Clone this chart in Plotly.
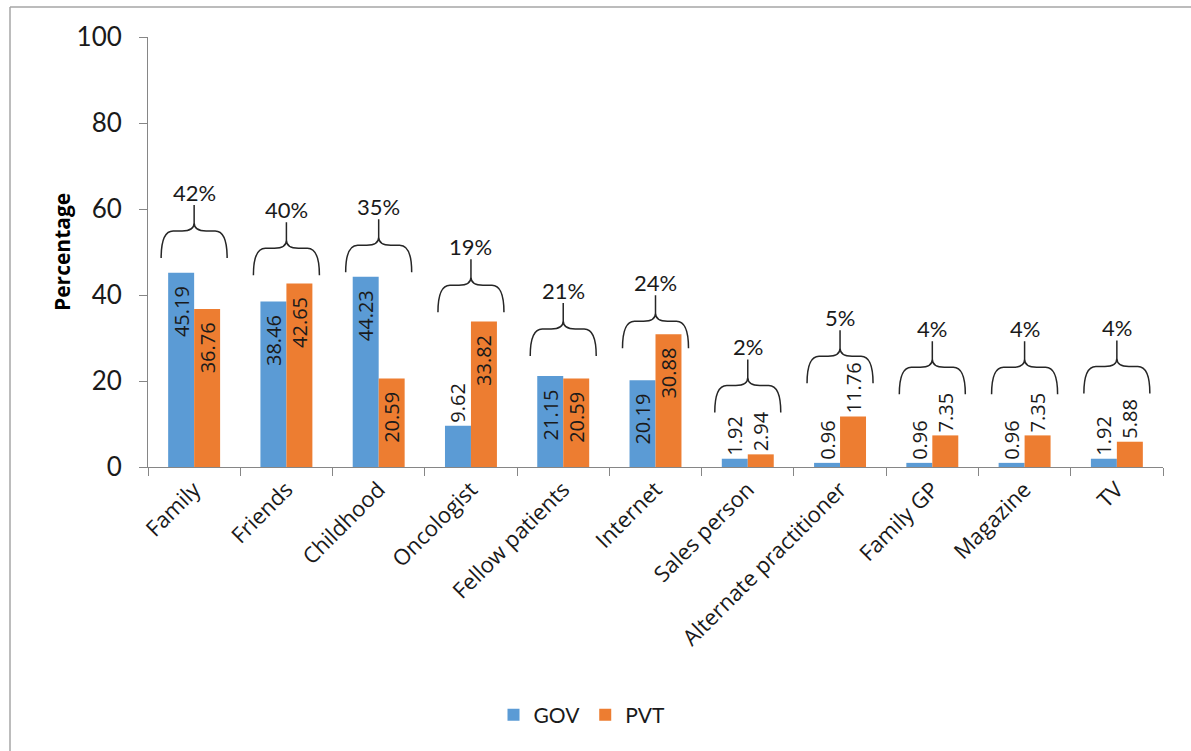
import plotly.graph_objects as go

# Sources of information, percentage of respondents per hospital type
categories = ["Family", "Friends", "Childhood", "Oncologist", "Fellow patients",
              "Internet", "Sales person", "Alternate practitioner", "Family GP",
              "Magazine", "TV"]
gov = [45.19, 38.46, 44.23, 9.62, 21.15, 20.19, 1.92, 0.96, 0.96, 0.96, 1.92]
pvt = [36.76, 42.65, 20.59, 33.82, 20.59, 30.88, 2.94, 11.76, 7.35, 7.35, 5.88]
overall = [42, 40, 35, 19, 21, 24, 2, 5, 4, 4, 4]
y_ticks = [0, 20, 40, 60, 80, 100]

# vertical level (in axis units) where each brace's feet rest
brace_base = [48.6, 44.6, 45.3, 36.0, 25.8, 27.6, 12.7, 19.5, 16.9, 16.9, 17.1]

BLUE = "#5B9BD5"
ORANGE = "#ED7D31"
AXIS = "#868686"
TXT = "#1a1a1a"
NUM_FONT = "Lato"
LBL_FONT = "Open Sans"

W, H = 1191, 751
ML, MR, MT, MB = 148, 28, 37, 284
plot_w = W - ML - MR
plot_h = H - MT - MB
px_y = plot_h / 100.0          # pixels per y unit
px_x = plot_w / len(categories)  # pixels per category

xs = list(range(len(categories)))
NBSP = "\u00a0"


def positions(vals):
    return ["inside" if v > 15 else "outside" for v in vals]


def fmt(vals):
    # inside labels sit a little below the bar top
    return [f"{v:.2f}" + (NBSP * 2 if v > 15 else "") for v in vals]


fig = go.Figure()
for name, vals, col in [("GOV", gov, BLUE), ("PVT", pvt, ORANGE)]:
    fig.add_trace(go.Bar(
        x=xs, y=vals, name=name,
        marker=dict(color=col, line=dict(width=0)),
        text=fmt(vals), textposition=positions(vals),
        insidetextanchor="end", textangle=-90, constraintext="none",
        textfont=dict(family=LBL_FONT, size=20, color=TXT),
        cliponaxis=False,
    ))

# curly braces spanning each pair of bars, with the combined share on top
half_w = 33 / px_x
r_x = 12 / px_x
leg_h = 27 / px_y
stem_h = 26 / px_y
r_y = 8 / px_y
shapes = []
annotations = []
for i, (base, pct) in enumerate(zip(brace_base, overall)):
    c = xs[i]
    yb = base
    yh = base + leg_h
    yt = yh + stem_h
    path = (
        f"M {c - half_w},{yb} Q {c - half_w},{yh} {c - half_w + r_x},{yh} "
        f"L {c - r_x},{yh} Q {c},{yh} {c},{yh + r_y} L {c},{yt} "
        f"M {c},{yh + r_y} Q {c},{yh} {c + r_x},{yh} "
        f"L {c + half_w - r_x},{yh} Q {c + half_w},{yh} {c + half_w},{yb}"
    )
    shapes.append(dict(type="path", path=path, xref="x", yref="y",
                       line=dict(color="#262626", width=1.5)))
    annotations.append(dict(x=c, y=yt, xref="x", yref="y", text=f"{pct}%",
                            showarrow=False, yanchor="bottom", yshift=-3,
                            font=dict(family=NUM_FONT, size=22, color=TXT)))

# y-axis title
annotations.append(dict(x=(62 - ML) / plot_w, y=(MT + plot_h - 252) / plot_h,
                        xref="paper", yref="paper", text="<b>Percentage</b>",
                        textangle=-90, showarrow=False,
                        xanchor="center", yanchor="middle",
                        font=dict(family=LBL_FONT, size=21, color="#000000")))

# outer frame (left and top edges)
shapes.append(dict(type="line", xref="paper", yref="paper",
                   x0=(10 - ML) / plot_w, x1=(10 - ML) / plot_w,
                   y0=-(MB + 10) / plot_h, y1=(plot_h + MT - 7) / plot_h,
                   line=dict(color="#A6A6A6", width=1.5)))
shapes.append(dict(type="line", xref="paper", yref="paper",
                   x0=(10 - ML) / plot_w, x1=(W + 10 - ML) / plot_w,
                   y0=(plot_h + MT - 7) / plot_h, y1=(plot_h + MT - 7) / plot_h,
                   line=dict(color="#A6A6A6", width=1.5)))

fig.update_layout(
    width=W, height=H,
    margin=dict(l=ML, r=MR, t=MT, b=MB, pad=0),
    paper_bgcolor="white", plot_bgcolor="white",
    barmode="group", bargap=0.437, bargroupgap=0,
    showlegend=True,
    legend=dict(orientation="h", x=(582 - ML) / plot_w, y=(MT + plot_h - 715) / plot_h,
                xanchor="center", yanchor="middle",
                font=dict(family=NUM_FONT, size=21, color=TXT),
                itemwidth=30, tracegroupgap=0),
    uniformtext=dict(minsize=20, mode="show"),
    shapes=shapes, annotations=annotations,
    xaxis=dict(
        range=[-0.5, len(categories) - 0.5],
        tickmode="array", tickvals=xs, ticktext=categories,
        ticks="", tickangle=-45,
        tickfont=dict(family=LBL_FONT, size=22, color=TXT),
        showline=True, linecolor=AXIS, linewidth=1,
        showgrid=False, zeroline=False,
        minor=dict(tickmode="array",
                   tickvals=[v - 0.5 for v in xs] + [xs[-1] + 0.5],
                   ticks="outside", ticklen=8, tickcolor=AXIS, tickwidth=1,
                   showgrid=False),
    ),
    yaxis=dict(
        range=[0, 100], tickmode="array", tickvals=y_ticks,
        ticks="outside", ticklen=8, tickcolor=AXIS, tickwidth=1,
        tickfont=dict(family=NUM_FONT, size=26, color=TXT),
        ticklabelstandoff=12,
        showline=True, linecolor=AXIS, linewidth=1,
        showgrid=False, zeroline=False,
    ),
)

fig.write_html("out.html")
